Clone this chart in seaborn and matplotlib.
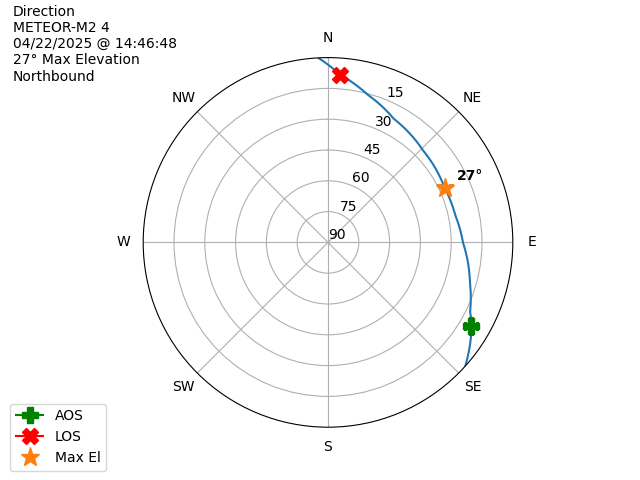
import numpy as np
import matplotlib
matplotlib.use("Agg")
import matplotlib.pyplot as plt
import seaborn as sns

# pass track (azimuth deg, elevation deg)
track_az = [-3, 4, 15, 28, 46, 65, 78, 90, 105, 116, 120, 132]
track_el = [0, 8.0, 15.5, 21.8, 25.6, 27.3, 26.6, 24.3, 18.5, 13, 9.2, 0]

aos_az, aos_el = 120.3, 9.2
los_az, los_el = 4.1, 8.2
max_az, max_el = 65.2, 27.4

compass = ['N', 'NE', 'E', 'SE', 'S', 'SW', 'W', 'NW']
r_ticks = [0, 15, 30, 45, 60, 75]
r_labels = ['90', '75', '60', '45', '30', '15']

info = "Direction\nMETEOR-M2 4\n04/22/2025 @ 14:46:48\n27° Max Elevation\nNorthbound"

fig = plt.figure(figsize=(6.4, 4.8), dpi=100)
ax = fig.add_subplot(111, projection='polar')
ax.set_theta_zero_location('N')
ax.set_theta_direction(-1)

# radius = 90 - elevation, so zenith is the centre
theta = np.radians(track_az)
r = 90 - np.array(track_el)
sns.lineplot(x=theta, y=r, ax=ax, sort=False, color='C0', linewidth=1.5)
# let the polar transform bend the segments instead of drawing chords
ax.lines[0].get_path()._interpolation_steps = 50

aos, = ax.plot(np.radians(aos_az), 90 - aos_el, '-P', color='green', markersize=12, label='AOS')
los, = ax.plot(np.radians(los_az), 90 - los_el, '-X', color='red', markersize=12, label='LOS')
mx, = ax.plot(np.radians(max_az), 90 - max_el, '*', color='C1', markersize=14, linestyle='', label='Max El')
ax.annotate(f"{int(max_el)}°", (np.radians(max_az), 90 - max_el), xytext=(9, 9),
            textcoords='offset points', ha='left', va='center', fontweight='bold')

ax.set_ylim(0, 90)
ax.set_yticks(r_ticks)
ax.set_yticklabels(r_labels)
ax.set_xticks(np.radians(np.arange(0, 360, 45)))
ax.set_xticklabels(compass)
ax.set_xlabel('')
ax.set_ylabel('')

fig.text(0.02, 0.99, info, ha='left', va='top', fontsize=10)
fig.legend(handles=[aos, los, mx], loc='lower left', bbox_to_anchor=(0.005, 0.005))

fig.savefig('out.png', dpi=100)
